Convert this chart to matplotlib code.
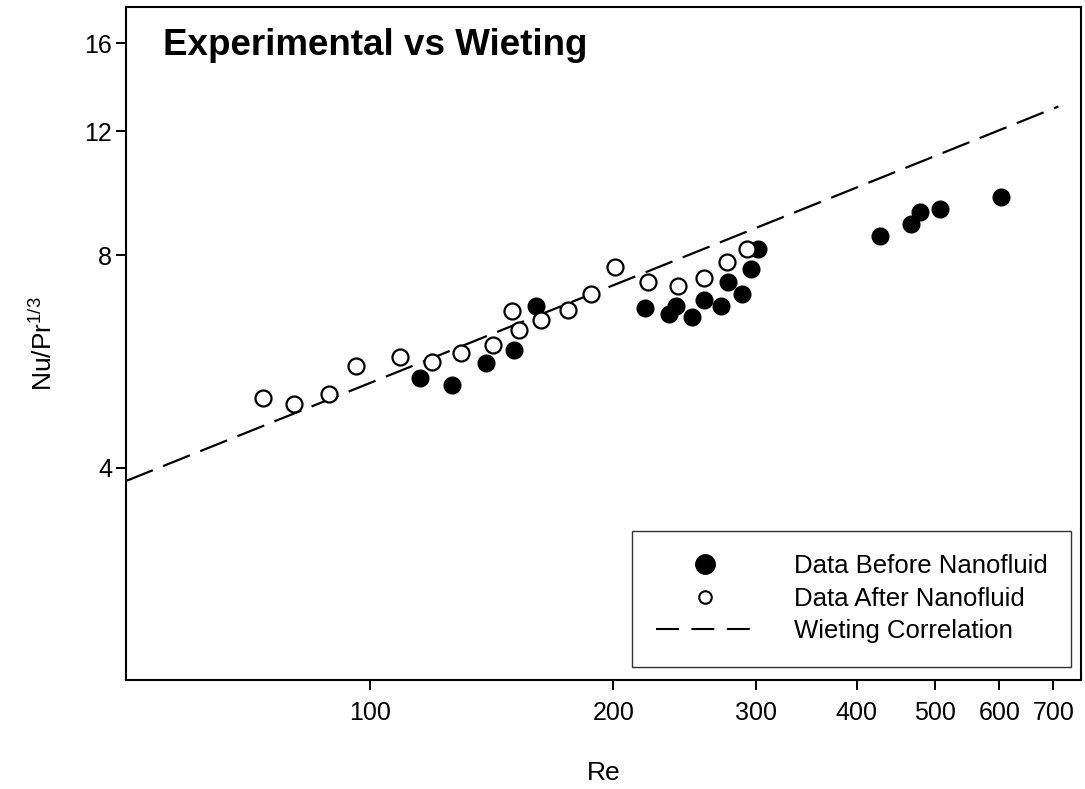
import numpy as np
import matplotlib
matplotlib.use('Agg')
import matplotlib.pyplot as plt
from matplotlib.lines import Line2D
from matplotlib.ticker import FixedLocator, NullLocator, FixedFormatter

plt.rcParams['font.family'] = ['Liberation Sans', 'DejaVu Sans']
plt.rcParams['mathtext.default'] = 'regular'

# Data
re_before = [115.3, 126.4, 139.2, 150.8, 160.6, 219.2, 234.7, 239.4, 250.6, 258.6,
             271.5, 277.0, 288.3, 295.7, 301.7, 427.3, 466.9, 479.0, 507.2, 603.6]
nu_before = [5.36, 5.24, 5.63, 5.88, 6.79, 6.74, 6.61, 6.79, 6.55, 6.92,
             6.79, 7.34, 7.06, 7.66, 8.18, 8.52, 8.86, 9.21, 9.30, 9.68]

re_after = [73.9, 80.7, 89.0, 96.1, 108.9, 119.4, 129.7, 142.0, 150.0, 153.0,
            162.9, 176.0, 187.8, 201.2, 221.1, 240.2, 258.6, 276.1, 292.4]
nu_after = [5.02, 4.92, 5.08, 5.57, 5.74, 5.65, 5.82, 5.97, 6.68, 6.27,
            6.48, 6.70, 7.06, 7.69, 7.34, 7.25, 7.42, 7.82, 8.18]

# Wieting correlation, straight line on log-log axes
re_wieting = [50, 710]
nu_wieting = [3.83, 13.01]

x_ticks = [100, 200, 300, 400, 500, 600, 700]
y_ticks = [4, 8, 12, 16]

fig = plt.figure(figsize=(10.85, 7.89), dpi=100)
ax = fig.add_axes([126 / 1085, 1 - 680 / 789, 955 / 1085, 673 / 789])

ax.plot(re_wieting, nu_wieting, color='black', lw=1.6, dashes=(13, 5))
ax.plot(re_before, nu_before, 'o', color='black', ms=12, mec='black', mew=1.0, zorder=3)
ax.plot(re_after, nu_after, 'o', color='white', ms=11.5, mec='black', mew=1.6, zorder=3)

ax.set_xscale('log')
ax.set_yscale('log')
ax.set_xlim(50, 757)
ax.set_ylim(2, 18)

ax.xaxis.set_major_locator(FixedLocator(x_ticks))
ax.xaxis.set_major_formatter(FixedFormatter([str(t) for t in x_ticks]))
ax.xaxis.set_minor_locator(NullLocator())
ax.yaxis.set_major_locator(FixedLocator(y_ticks))
ax.yaxis.set_major_formatter(FixedFormatter([str(t) for t in y_ticks]))
ax.yaxis.set_minor_locator(NullLocator())

ax.tick_params(axis='both', length=7, width=1.4, labelsize=18, direction='out')
ax.tick_params(axis='x', pad=8)
ax.tick_params(axis='y', pad=3)
for sp in ax.spines.values():
    sp.set_linewidth(1.5)

ax.set_xlabel('Re', fontsize=19, labelpad=26)
ax.set_ylabel('Nu/Pr$^{1/3}$', fontsize=19, labelpad=20)

ax.text(0.0387, 0.9287, 'Experimental vs Wieting', transform=ax.transAxes,
        fontsize=26.5, fontweight='bold', va='baseline', ha='left')

handles = [
    Line2D([], [], marker='o', ls='none', color='black', ms=14),
    Line2D([], [], marker='o', ls='none', mfc='white', mec='black', ms=9, mew=1.5),
    Line2D([], [], color='black', lw=1.5, dashes=(11, 6)),
]
labels = ['Data Before Nanofluid', 'Data After Nanofluid', 'Wieting Correlation']
leg = ax.legend(handles, labels, loc='lower right', bbox_to_anchor=(0.9895, 0.0193),
                fontsize=18.5, handlelength=3.8, handletextpad=1.55, labelspacing=0.33,
                borderpad=0.92, borderaxespad=0, frameon=True, fancybox=False)
leg.get_frame().set_edgecolor('black')
leg.get_frame().set_linewidth(1.0)

fig.savefig('out.png', dpi=100)
